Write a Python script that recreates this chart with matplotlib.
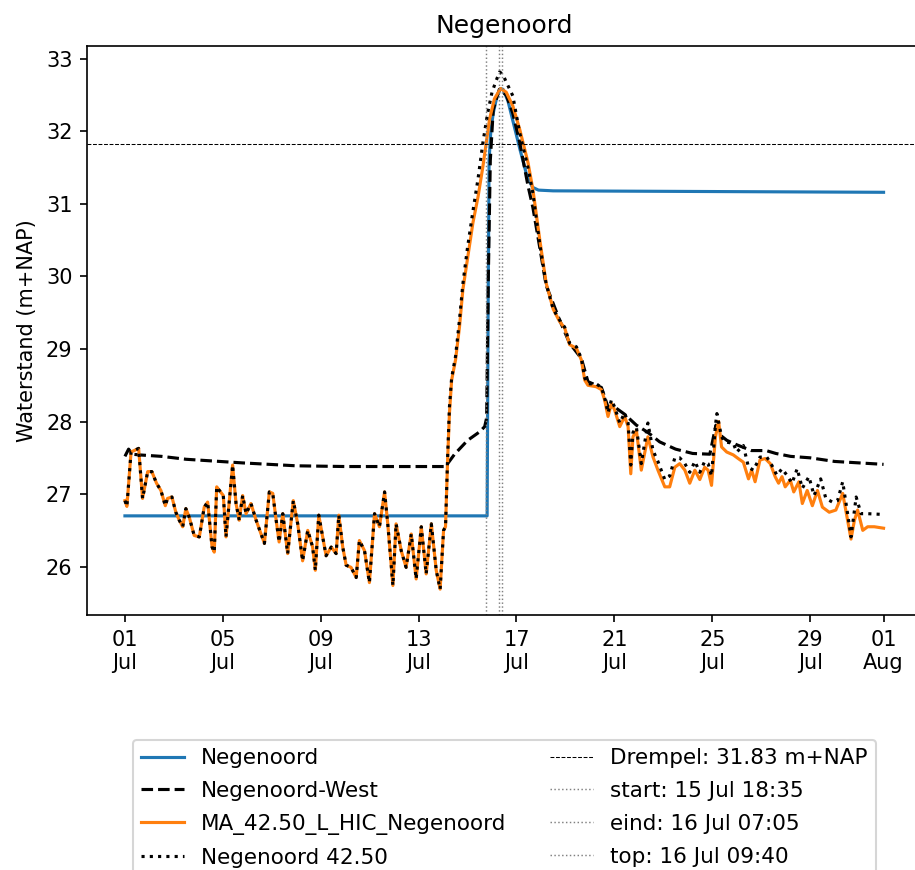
"""Waterstanden Negenoord rond de hoogwatergolf van juli 2021.

Vier reeksen (m+NAP) over 1 juli - 1 augustus, met de drempelhoogte en de
momenten start / eind / top van de overstroming als hulplijnen.
Waarden zijn afgelezen van de referentiefiguur (tijd in dagen na 1 juli).

Uitvoer : out.png (915 x 870 px).
"""

import sys

import matplotlib

matplotlib.use("Agg")  # geen scherm : direct naar PNG
import matplotlib.dates as mdates
import matplotlib.pyplot as plt
import pandas as pd

START_REEKS = pd.Timestamp("2021-07-01 00:00")

# Negenoord (blauw) : vlak tot de doorbraak, daarna naar ~31.2 m+NAP.
DAG_NEGENOORD = [0.00, 14.80, 14.84, 14.88, 14.95, 15.05, 15.20, 15.35,
                 15.45, 15.65, 15.90, 16.15, 16.40, 16.65, 16.90, 17.50,
                 31.00]
WS_NEGENOORD = [26.70, 26.70, 29.50, 31.60, 32.00, 32.25, 32.48, 32.59,
                32.58, 32.42, 32.08, 31.74, 31.42, 31.23, 31.19, 31.18,
                31.16]

# Negenoord-West (zwart gestreept).
DAG_WEST = [0.00, 0.15, 0.30, 0.60, 1.50, 2.50, 4.80, 7.00, 9.00, 13.10,
            13.47, 14.00, 14.50, 14.70, 14.78, 14.85, 14.93, 15.05, 15.30,
            15.58, 15.85, 16.13, 16.47, 16.67, 16.95, 17.21, 17.76, 18.17,
            18.65, 18.92, 19.47, 19.74, 20.01, 20.42, 20.90, 21.37, 21.85,
            22.50, 23.20, 23.90, 24.15, 24.30, 24.60, 25.00, 25.60, 26.20,
            26.60, 27.20, 28.00, 29.00, 30.00, 31.00]
WS_WEST = [27.52, 27.62, 27.55, 27.54, 27.52, 27.48, 27.43, 27.39, 27.38,
           27.38, 27.55, 27.74, 27.86, 27.93, 28.05, 30.00, 31.60, 32.30,
           32.58, 32.50, 32.25, 31.85, 31.25, 30.95, 30.40, 29.88, 29.40,
           29.08, 28.87, 28.55, 28.47, 28.20, 28.20, 28.10, 27.95, 27.85,
           27.72, 27.62, 27.56, 27.55, 27.95, 27.82, 27.74, 27.68, 27.60,
           27.60, 27.56, 27.52, 27.50, 27.45, 27.43, 27.41]

# Gemeenschappelijk deel van MA_42.50 en Negenoord 42.50 (1 - 14 juli).
DAG_LINKS = [0.00, 0.08, 0.25, 0.56, 0.72, 0.93, 1.10, 1.29, 1.47, 1.65,
             1.74, 1.92, 2.08, 2.22, 2.36, 2.49, 2.63, 2.83, 3.04, 3.24,
             3.38, 3.56, 3.65, 3.75, 3.86, 4.02, 4.13, 4.24, 4.40, 4.54,
             4.67, 4.81, 4.95, 5.15, 5.36, 5.56, 5.70, 5.90, 6.04, 6.18,
             6.30, 6.45, 6.65, 6.88, 7.06, 7.26, 7.47, 7.67, 7.78, 7.92,
             8.08, 8.22, 8.43, 8.63, 8.74, 8.90, 9.04, 9.24, 9.45, 9.58,
             9.79, 9.99, 10.20, 10.40, 10.61, 10.74, 10.95, 11.08, 11.29,
             11.49, 11.70, 11.90, 12.11, 12.31, 12.52, 12.72, 12.88, 13.02,
             13.10]
WS_LINKS = [26.91, 26.83, 27.58, 27.63, 26.94, 27.31, 27.31, 27.15, 27.05,
            26.84, 26.94, 26.96, 26.75, 26.64, 26.55, 26.80, 26.68, 26.43,
            26.41, 26.82, 26.89, 26.27, 26.20, 27.10, 27.05, 26.98, 26.41,
            26.82, 27.40, 26.87, 26.64, 26.98, 26.73, 26.87, 26.64, 26.45,
            26.32, 27.03, 27.01, 26.64, 26.34, 26.73, 26.18, 26.91, 26.59,
            26.08, 26.50, 26.27, 25.95, 26.71, 26.41, 26.15, 26.27, 26.18,
            26.71, 26.27, 26.02, 25.99, 25.85, 26.36, 26.22, 25.78, 26.73,
            26.55, 27.03, 26.59, 25.74, 26.59, 26.22, 25.99, 26.45, 25.83,
            26.55, 25.90, 26.59, 25.95, 25.69, 26.50, 26.55]

# MA_42.50_L_HIC_Negenoord (oranje), vanaf 13 juli.
DAG_MA = DAG_LINKS + [
    13.19, 13.26, 13.35, 13.51, 13.67, 13.81, 14.00, 14.22, 14.43, 14.63,
    14.90, 15.10, 15.35, 15.58, 15.85, 16.13, 16.47, 16.67, 16.95, 17.21,
    17.50, 17.76, 17.97, 18.17, 18.45, 18.65, 18.79, 18.92, 19.26, 19.47,
    19.60, 19.74, 19.88, 20.01, 20.22, 20.42, 20.56, 20.67, 20.76, 20.90,
    21.10, 21.37, 21.58, 21.78, 22.06, 22.26, 22.47, 22.67, 22.88, 23.08,
    23.29, 23.49, 23.69, 23.83, 23.97, 24.13, 24.26, 24.38, 24.59, 24.86,
    25.06, 25.27, 25.48, 25.61, 25.75, 25.95, 26.16, 26.37, 26.57, 26.71,
    26.85, 26.98, 27.19, 27.33, 27.54, 27.68, 27.88, 28.09, 28.30, 28.50,
    28.78, 29.05, 29.33, 29.53, 29.67, 29.81, 29.94, 30.15, 30.35, 30.62,
    31.00]
WS_MA = WS_LINKS + [
    27.51, 28.11, 28.57, 28.85, 29.30, 29.82, 30.25, 30.74, 31.10, 31.52,
    32.17, 32.45, 32.59, 32.54, 32.35, 32.03, 31.57, 31.20, 30.51, 29.91,
    29.55, 29.38, 29.29, 29.06, 29.01, 28.85, 28.57, 28.50, 28.48, 28.44,
    28.30, 28.07, 28.25, 28.16, 27.93, 28.07, 27.93, 27.28, 27.79, 27.88,
    27.33, 27.79, 27.51, 27.33, 27.10, 27.10, 27.37, 27.42, 27.33, 27.15,
    27.33, 27.20, 27.37, 27.33, 27.12, 27.79, 28.00, 27.65, 27.58, 27.54,
    27.49, 27.44, 27.21, 27.33, 27.17, 27.47, 27.49, 27.42, 27.24, 27.15,
    27.24, 27.10, 27.19, 27.03, 27.17, 26.87, 27.05, 26.84, 27.05, 26.82,
    26.75, 26.78, 27.01, 26.64, 26.38, 26.64, 26.78, 26.50, 26.55, 26.55,
    26.53]

# Negenoord 42.50 (zwart gestippeld), vanaf 13 juli.
DAG_4250 = DAG_LINKS + [
    13.19, 13.26, 13.35, 13.51, 13.67, 13.81, 14.00, 14.22, 14.43, 14.63,
    14.82, 15.00, 15.17, 15.31, 15.45, 15.58, 15.85, 16.13, 16.47, 16.67,
    16.95, 17.21, 17.50, 17.76, 17.97, 18.17, 18.45, 18.65, 18.79, 18.92,
    19.26, 19.47, 19.60, 19.74, 19.88, 20.01, 20.22, 20.42, 20.56, 20.67,
    20.76, 20.90, 21.10, 21.37, 21.58, 21.78, 22.06, 22.26, 22.47, 22.67,
    22.88, 23.08, 23.29, 23.49, 23.69, 23.83, 23.97, 24.13, 24.19, 24.38,
    24.51, 24.86, 25.00, 25.27, 25.48, 25.68, 25.95, 26.23, 26.43, 26.64,
    26.85, 27.05, 27.26, 27.47, 27.68, 27.95, 28.16, 28.43, 28.64, 28.91,
    29.12, 29.33, 29.53, 29.67, 29.88, 30.08, 30.35, 30.96]
WS_4250 = WS_LINKS + [
    27.55, 28.20, 28.60, 28.90, 29.40, 29.90, 30.40, 30.90, 31.35, 31.85,
    32.25, 32.54, 32.70, 32.82, 32.78, 32.68, 32.49, 31.98, 31.50, 31.15,
    30.45, 29.90, 29.55, 29.40, 29.30, 29.08, 29.03, 28.87, 28.60, 28.52,
    28.52, 28.47, 28.33, 28.12, 28.30, 28.20, 27.98, 28.12, 27.98, 27.40,
    27.85, 27.92, 27.42, 27.98, 27.60, 27.45, 27.20, 27.25, 27.50, 27.50,
    27.42, 27.30, 27.45, 27.30, 27.45, 27.42, 27.25, 27.95, 28.11, 27.79,
    27.72, 27.70, 27.58, 27.67, 27.37, 27.33, 27.51, 27.51, 27.40, 27.26,
    27.35, 27.26, 27.15, 27.35, 27.08, 27.24, 26.98, 27.21, 26.94, 26.89,
    26.91, 27.17, 26.73, 26.41, 26.96, 26.73, 26.73, 26.72]

DREMPEL = 31.83  # m+NAP
MOMENTEN = [("start", "2021-07-15 18:35"),
            ("eind", "2021-07-16 07:05"),
            ("top", "2021-07-16 09:40")]


def naar_tijd(dagen: list[float]) -> pd.DatetimeIndex:
    """Dagen na 1 juli 00:00 -> tijdstippen."""
    return START_REEKS + pd.to_timedelta(dagen, unit="D")


def teken_figuur() -> None:
    fig = plt.figure(figsize=(6.1, 5.8), dpi=150)
    # Assen handmatig geplaatst ; rechterrand valt net buiten de figuur.
    ax = fig.add_axes([87 / 915, 1 - 615 / 870, 834.5 / 915, 569 / 870])

    ax.plot(naar_tijd(DAG_NEGENOORD), WS_NEGENOORD, color="tab:blue",
            label="Negenoord")
    ax.plot(naar_tijd(DAG_WEST), WS_WEST, "k--", label="Negenoord-West")
    ax.plot(naar_tijd(DAG_MA), WS_MA, color="tab:orange",
            label="MA_42.50_L_HIC_Negenoord")
    ax.plot(naar_tijd(DAG_4250), WS_4250, "k:", label="Negenoord 42.50")

    ax.axhline(DREMPEL, color="k", ls="--", lw=0.5,
               label=f"Drempel: {DREMPEL:.2f} m+NAP")
    for naam, moment in MOMENTEN:
        t = pd.Timestamp(moment)
        ax.axvline(t, color="grey", ls=":", lw=0.7,
                   label=f"{naam}: {t.strftime('%d %b %H:%M')}")

    ax.xaxis.set_major_locator(
        mdates.DayLocator(bymonthday=[1, 5, 9, 13, 17, 21, 25, 29]))
    ax.xaxis.set_major_formatter(mdates.DateFormatter("%d\n%b"))
    ax.set_title("Negenoord")
    ax.set_ylabel("Waterstand (m+NAP)")
    ax.legend(loc="upper center", bbox_to_anchor=(0.5, -0.2), ncol=2,
              fontsize=10.3, labelspacing=0.6)

    fig.savefig("out.png", dpi=150)
    plt.close(fig)


def main() -> int:
    teken_figuur()
    return 0


if __name__ == "__main__":
    sys.exit(main())
